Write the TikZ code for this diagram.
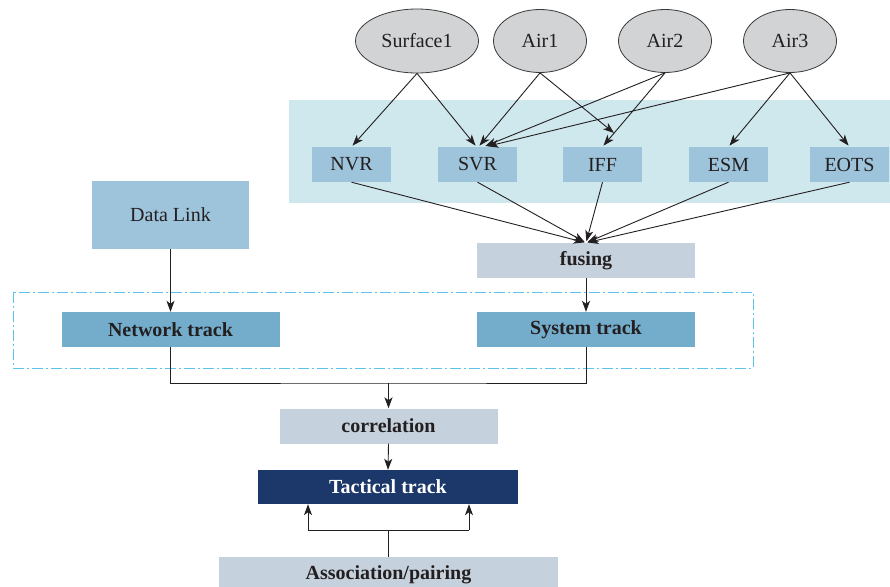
\documentclass[tikz,border=0pt]{standalone}
\usepackage{fontspec}
\setmainfont{Liberation Serif}
\usetikzlibrary{shapes.geometric,arrows.meta,calc}
\definecolor{ellfill}{HTML}{D1D3D4}
\definecolor{ellline}{HTML}{3A3A3A}
\definecolor{bgcyan}{HTML}{CFE8ED}
\definecolor{sensorc}{HTML}{9EC4DB}
\definecolor{trackc}{HTML}{74ADCB}
\definecolor{grayc}{HTML}{C5D1DC}
\definecolor{tactc}{HTML}{1C3769}
\definecolor{dashc}{HTML}{5CC3EB}
\definecolor{inkc}{HTML}{231F20}
\tikzset{
  ell/.style={ellipse, draw=ellline, fill=ellfill, line width=0.8pt, inner sep=0pt,
    minimum width=93pt, minimum height=63pt, text=inkc, font=\fontsize{20}{24}\selectfont},
  sensorbox/.style={rectangle, fill=sensorc, inner sep=0pt, minimum width=79pt,
    minimum height=35pt, text=inkc, font=\fontsize{20}{24}\selectfont},
  trackbox/.style={rectangle, fill=trackc, inner sep=0pt, minimum width=218pt,
    minimum height=35pt, text=inkc, font=\bfseries\fontsize{20}{24}\selectfont},
  graybox/.style={rectangle, fill=grayc, inner sep=0pt, minimum width=218pt,
    minimum height=35pt, text=inkc, font=\bfseries\fontsize{20}{24}\selectfont},
  conn/.style={draw=inkc, line width=0.9pt},
  arr/.style={conn, -{Stealth[length=11pt,width=8pt,inset=3pt]}},
}
\begin{document}
\begin{tikzpicture}[x=1pt,y=-1pt]
\clip (0,0) rectangle (890,586);
\fill[white] (0,0) rectangle (890,586);
% sensor background
\fill[bgcyan] (289,100) rectangle (890,203);
% dashed group
\draw[dashc, line width=1pt, dash pattern=on 11pt off 3pt on 2pt off 3pt] (13,292) rectangle (753,368);

% sources
\node[ell, minimum width=123pt, minimum height=64pt] (S1) at (417,41) {Surface1};
\node[ell] (A1) at (540,41) {Air1};
\node[ell] (A2) at (665,41) {Air2};
\node[ell] (A3) at (790,41) {Air3};

% sensors
\node[sensorbox] (NVR) at (351.5,164.5) {NVR};
\node[sensorbox] (SVR) at (477.5,164.5) {SVR};
\node[sensorbox] (IFF) at (602.5,164.5) {IFF};
\node[sensorbox] (ESM) at (728.5,164.5) {ESM};
\node[sensorbox] (EOTS) at (849.5,164.5) {EOTS};

% data link
\node[sensorbox, minimum width=157pt, minimum height=68pt] (DL) at (170.5,215) {Data Link};

% processing
\node[graybox] (FUS) at (586,260.5) {fusing};
\node[trackbox] (NT) at (170.5,329.5) {Network track};
\node[trackbox] (ST) at (586,329.5) {System track};
\node[graybox] (COR) at (388.5,426) {correlation};
\node[rectangle, fill=tactc, inner sep=0pt, minimum width=260pt, minimum height=34pt,
  text=white, font=\bfseries\fontsize{20}{24}\selectfont] (TT) at (388,487) {Tactical track};
\node[graybox, minimum width=339pt, minimum height=36pt] (AP) at (388.5,575) {Association/pairing};

% source -> sensor arrows
\coordinate (iffend) at (614,133);
\draw[arr, shorten >=1.5pt] (S1.south) -- (NVR.north);
\draw[arr, shorten >=1.5pt] (S1.south) -- ($(SVR.north)+(-1,0)$);
\draw[arr, shorten >=1.5pt] (A1.south) -- ($(SVR.north)+(1,0)$);
\draw[arr] (A1.south) -- (iffend);
\draw[arr, shorten >=2pt] (A2.south) -- ($(SVR.north)+(6,0)$);
\draw[arr, shorten >=1.5pt] (A2.south) -- (IFF.north);
\draw[arr, shorten >=2pt] (A3.south) -- ($(SVR.north)+(8,0)$);
\draw[arr, shorten >=1.5pt] (A3.south) -- (ESM.north);
\draw[arr, shorten >=1.5pt] (A3.south) -- (EOTS.north);

% sensor -> fusing
\foreach \s in {NVR,SVR,IFF,ESM,EOTS}
  \draw[arr, shorten >=1.5pt] (\s.south) -- (FUS.north);

% data link / fusing -> tracks
\draw[arr] (DL.south) -- (NT.north);
\draw[arr] (FUS.south) -- (ST.north);

% tracks -> correlation
\coordinate (j1) at (388.5,383);
\draw[conn] (NT.south) |- (j1) -| (ST.south);
\draw[arr] (j1) -- (COR.north);
\draw[arr] (COR.south) -- (TT.north);

% association -> tactical
\coordinate (j2) at (388.5,530);
\coordinate (jl) at (308,530);
\coordinate (jr) at (469,530);
\draw[conn] (AP.north) -- (j2);
\draw[conn] (jl) -- (jr);
\draw[arr] (jl) -- (jl |- TT.south);
\draw[arr] (jr) -- (jr |- TT.south);
\end{tikzpicture}
\end{document}
